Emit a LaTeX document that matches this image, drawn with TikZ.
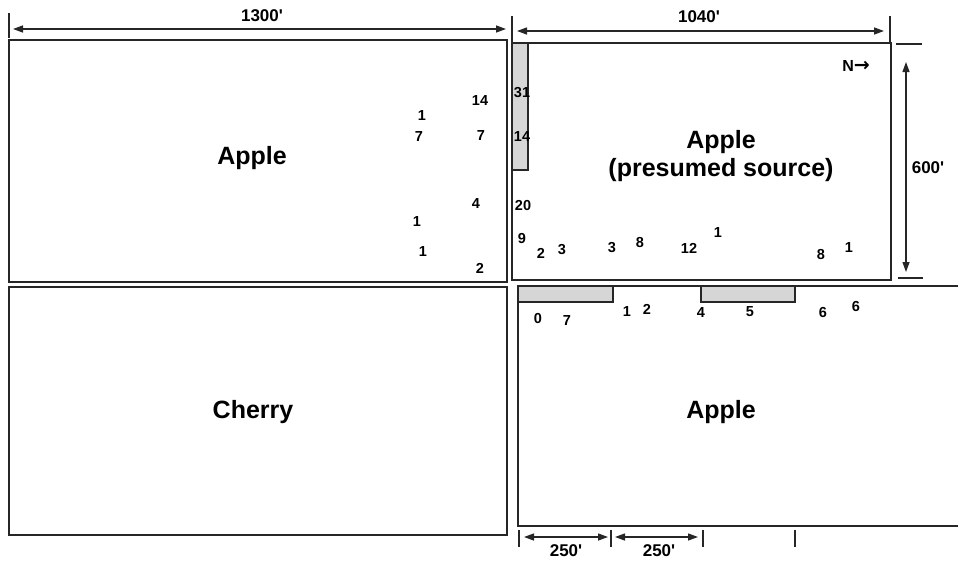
\documentclass[tikz,border=0pt]{standalone}
\usepackage{fontspec}
\setmainfont{Liberation Sans}[Ligatures=TeXOff]
\newfontfamily\arrowfont{DejaVu Sans}
\usetikzlibrary{arrows.meta}
\begin{document}
\begin{tikzpicture}[x=1pt,y=-1pt,
  wall/.style={draw=black!85,line width=1.8pt},
  strip/.style={draw=black!85,line width=1.5pt,fill=black!16},
  num/.style={font=\fontsize{14.5}{16}\selectfont\bfseries,inner sep=0pt},
  big/.style={font=\fontsize{25}{28}\selectfont\bfseries,align=center,inner sep=0pt},
  dimlbl/.style={font=\fontsize{17}{19}\selectfont\bfseries,inner sep=0pt},
  dimarrow/.style={draw=black!85,line width=1.3pt,{Triangle[length=10pt,width=7pt]}-{Triangle[length=10pt,width=7pt]}},
  tickline/.style={draw=black!85,line width=1.3pt}]
\useasboundingbox (0,0) rectangle (958,562);

% blocks
\draw[wall] (9,40) rectangle (507,282);
\draw[wall] (9,287) rectangle (507,535);
\draw[wall] (512,43) rectangle (891,280);
\draw[strip] (512,43) rectangle (528,170);
\draw[wall] (958,286) -- (518,286) -- (518,526) -- (958,526);
\draw[strip] (518,286) rectangle (613,302);
\draw[strip] (701,286) rectangle (795,302);

% big labels
\node[big] (tl) at (252,158) {Apple};
\node[big] (tr) at (721,156) {Apple\\(presumed source)};
\node[big] (bl) at (253,412) {Cherry};
\node[big] (br) at (721,412) {Apple};
\node[font=\fontsize{16}{18}\selectfont\bfseries,inner sep=0pt] (north) at (856,66) {N{\arrowfont\fontsize{19}{21}\selectfont\bfseries →}};

% top dimension lines
\coordinate (a1) at (13,29);
\coordinate (a2) at (506,29);
\coordinate (b1) at (517,31);
\coordinate (b2) at (884,31);
\draw[tickline] (9,13) -- (9,38);
\draw[tickline] (512,16) -- (512,42);
\draw[tickline] (890,16) -- (890,42);
\draw[dimarrow] (a1) -- (a2);
\draw[dimarrow] (b1) -- (b2);
\node[dimlbl] (d1300) at (262,16) {1300'};
\node[dimlbl] (d1040) at (699,17) {1040'};

% right dimension line
\coordinate (c1) at (906,62);
\coordinate (c2) at (906,272);
\draw[tickline] (896,44) -- (922,44);
\draw[tickline] (898,278) -- (923,278);
\draw[dimarrow] (c1) -- (c2);
\node[dimlbl] (d600) at (928,168) {600'};

% bottom dimension lines
\coordinate (e1) at (524,537);
\coordinate (e2) at (608,537);
\coordinate (f1) at (615,537);
\coordinate (f2) at (698,537);
\draw[tickline] (519,530) -- (519,547);
\draw[tickline] (611,530) -- (611,547);
\draw[tickline] (703,530) -- (703,547);
\draw[tickline] (795,530) -- (795,547);
\draw[dimarrow] (e1) -- (e2);
\draw[dimarrow] (f1) -- (f2);
\node[dimlbl] (d250a) at (566,551) {250'};
\node[dimlbl] (d250b) at (659,551) {250'};

% numbers, top-left block
\node[num] (n1) at (480,101) {14};
\node[num] (n2) at (422,116) {1};
\node[num] (n3) at (419,137) {7};
\node[num] (n4) at (481,136) {7};
\node[num] (n5) at (476,204) {4};
\node[num] (n6) at (417,222) {1};
\node[num] (n7) at (423,252) {1};
\node[num] (n8) at (480,268) {2};

% numbers, west edge of top-right block
\node[num] (n9) at (522,93) {31};
\node[num] (n10) at (522,137) {14};
\node[num] (n11) at (523,206) {20};
\node[num] (n12) at (522,239) {9};

% numbers, south of top-right block
\node[num] (n13) at (541,253) {2};
\node[num] (n14) at (562,250) {3};
\node[num] (n15) at (612,248) {3};
\node[num] (n16) at (640,243) {8};
\node[num] (n17) at (689,248) {12};
\node[num] (n18) at (718,233) {1};
\node[num] (n19) at (821,255) {8};
\node[num] (n20) at (849,248) {1};

% numbers, bottom-right block
\node[num] (n21) at (538,319) {0};
\node[num] (n22) at (567,321) {7};
\node[num] (n23) at (627,312) {1};
\node[num] (n24) at (647,309) {2};
\node[num] (n25) at (701,313) {4};
\node[num] (n26) at (750,312) {5};
\node[num] (n27) at (823,313) {6};
\node[num] (n28) at (856,307) {6};
\end{tikzpicture}
\end{document}
